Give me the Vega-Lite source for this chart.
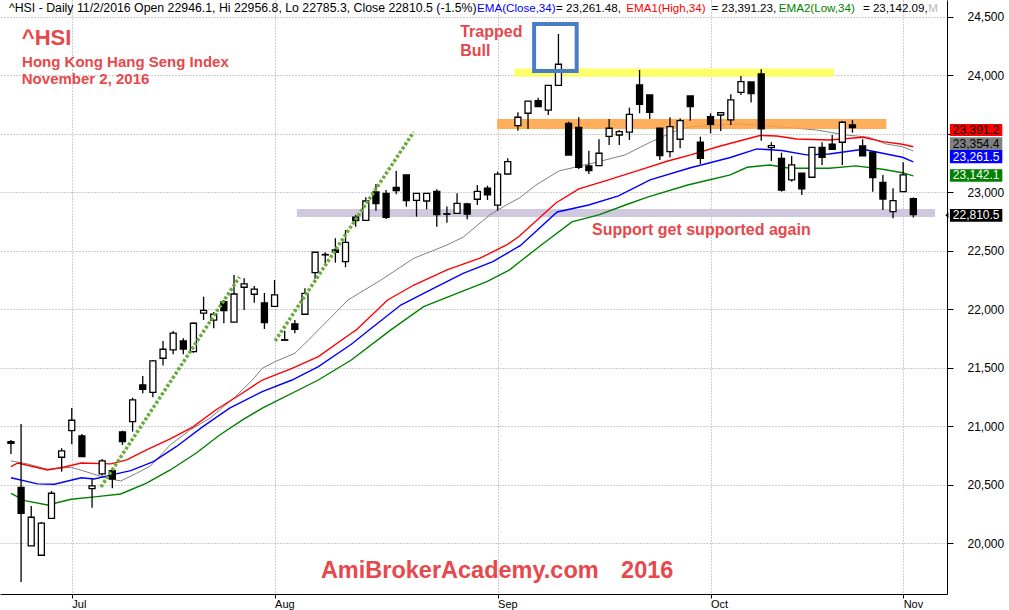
{
"$schema":"https://vega.github.io/schema/vega-lite/v6.json",
"width":947,"height":594,"autosize":{"type":"none"},"padding":{"left":0,"top":0,"right":62,"bottom":16},"background":"white",
"config":{"view":{"stroke":null},"font":"Liberation Sans"},
"datasets":{
"candles":[
{"i":0,"o":20870,"h":20885,"l":20765,"c":20856},{"i":1,"o":20480,"h":21021,"l":19671,"c":20258},{"i":2,"o":19979,"h":20321,"l":19979,"c":20224},{"i":3,"o":19899,"h":20184,"l":19899,"c":20173},{"i":4,"o":20215,"h":20449,"l":20215,"c":20429},{"i":5,"o":20737,"h":20814,"l":20614,"c":20791},{"i":6,"o":20964,"h":21158,"l":20848,"c":21053},{"i":7,"o":20919,"h":20936,"l":20742,"c":20742},{"i":8,"o":20468,"h":20557,"l":20306,"c":20492},{"i":9,"o":20594,"h":20722,"l":20580,"c":20705},
{"i":10,"o":20622,"h":20643,"l":20472,"c":20551},{"i":11,"o":20953,"h":20964,"l":20842,"c":20870},{"i":12,"o":21041,"h":21246,"l":20956,"c":21227},{"i":13,"o":21355,"h":21432,"l":21284,"c":21318},{"i":14,"o":21292,"h":21568,"l":21250,"c":21560},{"i":15,"o":21583,"h":21731,"l":21520,"c":21660},{"i":16,"o":21654,"h":21816,"l":21617,"c":21797},{"i":17,"o":21731,"h":21754,"l":21617,"c":21662},{"i":18,"o":21639,"h":21890,"l":21630,"c":21882},{"i":19,"o":21968,"h":22109,"l":21910,"c":21993},
{"i":20,"o":21908,"h":21979,"l":21839,"c":21959},{"i":21,"o":22067,"h":22081,"l":21882,"c":21990},{"i":22,"o":21891,"h":22295,"l":21891,"c":22132},{"i":23,"o":22190,"h":22267,"l":21996,"c":22218},{"i":24,"o":22130,"h":22201,"l":22058,"c":22173},{"i":25,"o":22056,"h":22141,"l":21833,"c":21887},{"i":26,"o":22027,"h":22252,"l":22027,"c":22124},{"i":27,"o":21741,"h":21819,"l":21735,"c":21737},{"i":28,"o":21876,"h":21910,"l":21796,"c":21831},{"i":29,"o":21959,"h":22181,"l":21959,"c":22138},
{"i":30,"o":22315,"h":22489,"l":22263,"c":22489},{"i":31,"o":22466,"h":22489,"l":22395,"c":22470},{"i":32,"o":22509,"h":22609,"l":22400,"c":22489},{"i":33,"o":22409,"h":22679,"l":22361,"c":22574},{"i":34,"o":22788,"h":22808,"l":22708,"c":22759},{"i":35,"o":22762,"h":22959,"l":22762,"c":22927},{"i":36,"o":23004,"h":23073,"l":22844,"c":22904},{"i":37,"o":22993,"h":23021,"l":22774,"c":22788},{"i":38,"o":23044,"h":23184,"l":22985,"c":23016},{"i":39,"o":23150,"h":23150,"l":22879,"c":22930},
{"i":40,"o":22933,"h":22995,"l":22793,"c":22993},{"i":41,"o":22927,"h":22995,"l":22856,"c":22993},{"i":42,"o":23010,"h":23027,"l":22708,"c":22810},{"i":43,"o":22818,"h":22879,"l":22742,"c":22814},{"i":44,"o":22822,"h":22993,"l":22822,"c":22907},{"i":45,"o":22902,"h":22913,"l":22771,"c":22814},{"i":46,"o":22942,"h":23064,"l":22893,"c":23010},{"i":47,"o":23036,"h":23058,"l":22936,"c":22979},{"i":48,"o":22891,"h":23178,"l":22844,"c":23156},{"i":49,"o":23158,"h":23292,"l":23158,"c":23263},
{"i":50,"o":23571,"h":23685,"l":23528,"c":23643},{"i":51,"o":23677,"h":23780,"l":23543,"c":23780},{"i":52,"o":23785,"h":23810,"l":23733,"c":23733},{"i":53,"o":23703,"h":23916,"l":23662,"c":23916},{"i":54,"o":23916,"h":24355,"l":23916,"c":24096},{"i":55,"o":23591,"h":23605,"l":23320,"c":23320},{"i":56,"o":23557,"h":23643,"l":23201,"c":23215},{"i":57,"o":23226,"h":23357,"l":23158,"c":23186},{"i":58,"o":23229,"h":23455,"l":23229,"c":23335},{"i":59,"o":23480,"h":23628,"l":23406,"c":23549},
{"i":60,"o":23491,"h":23534,"l":23406,"c":23520},{"i":61,"o":23515,"h":23725,"l":23449,"c":23668},{"i":62,"o":23919,"h":24047,"l":23677,"c":23754},{"i":63,"o":23833,"h":23833,"l":23628,"c":23685},{"i":64,"o":23549,"h":23549,"l":23278,"c":23315},{"i":65,"o":23349,"h":23643,"l":23301,"c":23562},{"i":66,"o":23455,"h":23634,"l":23378,"c":23614},{"i":67,"o":23825,"h":23825,"l":23614,"c":23733},{"i":68,"o":23429,"h":23477,"l":23244,"c":23292},{"i":69,"o":23648,"h":23677,"l":23506,"c":23583},
{"i":70,"o":23662,"h":23682,"l":23526,"c":23682},{"i":71,"o":23620,"h":23839,"l":23577,"c":23791},{"i":72,"o":23856,"h":23996,"l":23833,"c":23947},{"i":73,"o":23944,"h":23944,"l":23768,"c":23844},{"i":74,"o":24013,"h":24053,"l":23443,"c":23543},{"i":75,"o":23383,"h":23429,"l":23269,"c":23400},{"i":76,"o":23292,"h":23340,"l":23007,"c":23021},{"i":77,"o":23107,"h":23312,"l":23092,"c":23235},{"i":78,"o":23164,"h":23164,"l":22979,"c":23030},{"i":79,"o":23130,"h":23386,"l":23130,"c":23386},
{"i":80,"o":23386,"h":23429,"l":23235,"c":23301},{"i":81,"o":23412,"h":23491,"l":23363,"c":23369},{"i":82,"o":23429,"h":23611,"l":23235,"c":23600},{"i":83,"o":23577,"h":23620,"l":23511,"c":23554},{"i":84,"o":23397,"h":23455,"l":23312,"c":23312},{"i":85,"o":23344,"h":23344,"l":23007,"c":23127},{"i":86,"o":23087,"h":23150,"l":22850,"c":22944},{"i":87,"o":22836,"h":23036,"l":22780,"c":22930},{"i":88,"o":23007,"h":23258,"l":23007,"c":23150},{"i":89,"o":22946.1,"h":22956.8,"l":22785.3,"c":22810.5}
],
"ma":[
{"k":"gray","i":0,"p":20705},{"k":"gray","i":1.66,"p":20679},{"k":"gray","i":3.61,"p":20634},{"k":"gray","i":5.95,"p":20651},{"k":"gray","i":7.9,"p":20600},{"k":"gray","i":9.47,"p":20557},{"k":"gray","i":10.83,"p":20534},{"k":"gray","i":12.4,"p":20600},{"k":"gray","i":13.76,"p":20662},{"k":"gray","i":15.71,"p":20842},{"k":"gray","i":17.66,"p":20970},{"k":"gray","i":19.62,"p":21070},{"k":"gray","i":22.15,"p":21255},{"k":"gray","i":23.81,"p":21397},{"k":"gray","i":24.79,"p":21497},{"k":"gray","i":26.06,"p":21554},{"k":"gray","i":28.01,"p":21626},{"k":"gray","i":29.35,"p":21739},{"k":"gray","i":31.3,"p":21910},{"k":"gray","i":33.25,"p":22081},{"k":"gray","i":36.5,"p":22252},{"k":"gray","i":39.75,"p":22438},{"k":"gray","i":43.01,"p":22551},{"k":"gray","i":44.63,"p":22620},{"k":"gray","i":47.23,"p":22808},{"k":"gray","i":48.86,"p":22893},{"k":"gray","i":50.16,"p":22953},{"k":"gray","i":51.79,"p":23064},{"k":"gray","i":54.06,"p":23184},{"k":"gray","i":57.97,"p":23263},{"k":"gray","i":60.57,"p":23321},{"k":"gray","i":63.17,"p":23434},{"k":"gray","i":65.78,"p":23534},{"k":"gray","i":67.07,"p":23562},{"k":"gray","i":71.63,"p":23585},{"k":"gray","i":73.58,"p":23577},{"k":"gray","i":77.49,"p":23549},{"k":"gray","i":79.44,"p":23534},{"k":"gray","i":82.37,"p":23491},{"k":"gray","i":84.61,"p":23472},{"k":"gray","i":86.27,"p":23415},{"k":"gray","i":87.93,"p":23391},{"k":"gray","i":89,"p":23354.4},
{"k":"red","i":0,"p":20657},{"k":"red","i":0.68,"p":20688},{"k":"red","i":3.61,"p":20628},{"k":"red","i":5.27,"p":20654},{"k":"red","i":6.93,"p":20688},{"k":"red","i":9.86,"p":20680},{"k":"red","i":11.42,"p":20714},{"k":"red","i":13.37,"p":20799},{"k":"red","i":15.71,"p":20893},{"k":"red","i":17.96,"p":20996},{"k":"red","i":20.2,"p":21141},{"k":"red","i":22.54,"p":21269},{"k":"red","i":24.79,"p":21397},{"k":"red","i":27.72,"p":21497},{"k":"red","i":30.32,"p":21597},{"k":"red","i":33.57,"p":21797},{"k":"red","i":34.06,"p":21825},{"k":"red","i":37.15,"p":22081},{"k":"red","i":39.75,"p":22209},{"k":"red","i":43.01,"p":22338},{"k":"red","i":46.26,"p":22438},{"k":"red","i":48.89,"p":22551},{"k":"red","i":50.16,"p":22628},{"k":"red","i":53.74,"p":22910},{"k":"red","i":56.02,"p":23030},{"k":"red","i":58.94,"p":23107},{"k":"red","i":62.36,"p":23201},{"k":"red","i":64.8,"p":23269},{"k":"red","i":67.04,"p":23321},{"k":"red","i":69.97,"p":23397},{"k":"red","i":73.88,"p":23487},{"k":"red","i":75.53,"p":23483},{"k":"red","i":77.49,"p":23457},{"k":"red","i":80.71,"p":23449},{"k":"red","i":84.03,"p":23472},{"k":"red","i":85.97,"p":23434},{"k":"red","i":87.93,"p":23412},{"k":"red","i":89,"p":23391.2},
{"k":"blue","i":0,"p":20562},{"k":"blue","i":2.63,"p":20509},{"k":"blue","i":4.29,"p":20506},{"k":"blue","i":6.93,"p":20562},{"k":"blue","i":8.2,"p":20551},{"k":"blue","i":10.15,"p":20591},{"k":"blue","i":11.81,"p":20622},{"k":"blue","i":14.05,"p":20699},{"k":"blue","i":16.3,"p":20827},{"k":"blue","i":18.93,"p":20998},{"k":"blue","i":21.57,"p":21156},{"k":"blue","i":24.79,"p":21298},{"k":"blue","i":27.72,"p":21397},{"k":"blue","i":30.32,"p":21511},{"k":"blue","i":33.57,"p":21703},{"k":"blue","i":35.33,"p":21825},{"k":"blue","i":38.45,"p":22038},{"k":"blue","i":41.38,"p":22167},{"k":"blue","i":44.6,"p":22309},{"k":"blue","i":47.53,"p":22409},{"k":"blue","i":50.26,"p":22547},{"k":"blue","i":53.87,"p":22833},{"k":"blue","i":56.99,"p":22893},{"k":"blue","i":59.92,"p":22970},{"k":"blue","i":63.04,"p":23107},{"k":"blue","i":66.94,"p":23209},{"k":"blue","i":70.95,"p":23299},{"k":"blue","i":73.58,"p":23372},{"k":"blue","i":76.02,"p":23359},{"k":"blue","i":78.46,"p":23321},{"k":"blue","i":80.71,"p":23329},{"k":"blue","i":84.03,"p":23369},{"k":"blue","i":85.97,"p":23335},{"k":"blue","i":87.93,"p":23301},{"k":"blue","i":89,"p":23261.5},
{"k":"green","i":0,"p":20429},{"k":"green","i":1.37,"p":20366},{"k":"green","i":3.61,"p":20329},{"k":"green","i":5.95,"p":20378},{"k":"green","i":8.49,"p":20400},{"k":"green","i":10.83,"p":20423},{"k":"green","i":13.37,"p":20515},{"k":"green","i":15.71,"p":20628},{"k":"green","i":18.25,"p":20771},{"k":"green","i":20.59,"p":20927},{"k":"green","i":22.84,"p":21056},{"k":"green","i":24.79,"p":21156},{"k":"green","i":30.32,"p":21397},{"k":"green","i":33.57,"p":21568},{"k":"green","i":37.47,"p":21825},{"k":"green","i":40.7,"p":22024},{"k":"green","i":43.62,"p":22124},{"k":"green","i":46.94,"p":22238},{"k":"green","i":49.19,"p":22338},{"k":"green","i":50.16,"p":22406},{"k":"green","i":52.31,"p":22551},{"k":"green","i":55.33,"p":22748},{"k":"green","i":57.97,"p":22808},{"k":"green","i":60.6,"p":22893},{"k":"green","i":62.85,"p":22962},{"k":"green","i":66.75,"p":23064},{"k":"green","i":68.41,"p":23098},{"k":"green","i":70.95,"p":23150},{"k":"green","i":72.61,"p":23215},{"k":"green","i":74.85,"p":23235},{"k":"green","i":76.81,"p":23207},{"k":"green","i":80.71,"p":23207},{"k":"green","i":83.34,"p":23227},{"k":"green","i":85.97,"p":23198},{"k":"green","i":87.93,"p":23169},{"k":"green","i":89,"p":23142.1}
],
"bands":[
{"k":"lav","i":28.2,"i2":91.15,"p":22859,"p2":22790},
{"k":"orange","i":47.95,"i2":86.34,"p":23628,"p2":23543},
{"k":"yellow","i":49.67,"i2":81.17,"p":24060,"p2":23990}
],
"trend":[
{"g":1,"i":8.88,"p":20483},{"g":1,"i":22.54,"p":22278},
{"g":2,"i":26.06,"p":21731},{"g":2,"i":39.72,"p":23517}
],
"header":[
{"g":"h1","k":"black","t":"^HSI - Daily 11/2/2016 Open 22946.1, Hi 22956.8, Lo 22785.3, Close 22810.5 (-1.5%)","i":-0.195,"p":24545},
{"g":"h2","k":"blue","t":"EMA(Close,34)","i":45.97,"p":24545},
{"g":"h2","k":"black","t":"= 23,261.48,","i":53.77,"p":24545},
{"g":"h2","k":"red","t":"EMA1(High,34)","i":60.7,"p":24545},
{"g":"h2","k":"black","t":"= 23,391.23,","i":69.09,"p":24545},
{"g":"h2","k":"green","t":"EMA2(Low,34)","i":75.73,"p":24545},
{"g":"h2","k":"black","t":"= 23,142.09,","i":84.03,"p":24545},
{"g":"h2","k":"lgray","t":"M","i":90.47,"p":24545}
],
"notes":[
{"g":"big","t":"^HSI","i":1.07,"p":24261},
{"g":"sub","t":"Hong Kong Hang Seng Index","i":1.1,"p":24075},
{"g":"sub","t":"November 2, 2016","i":1.07,"p":23927},
{"g":"mid","t":"Trapped","i":44.31,"p":24332},
{"g":"mid","t":"Bull","i":44.31,"p":24169},
{"g":"mid","t":"Support get supported again","i":57.31,"p":22637},
{"g":"wm","t":"AmiBrokerAcademy.com","i":30.57,"p":19703},
{"g":"wm","t":"2016","i":60.18,"p":19703}
],
"last":[
{"k":"red","t":"23,391.2","i":95.2,"a":92.61,"b":97.78,"p":23534,"p1":23585,"p2":23483},
{"k":"gray","t":"23,354.4","i":95.2,"a":92.61,"b":97.78,"p":23417,"p1":23472,"p2":23363},
{"k":"blue","t":"23,261.5","i":95.2,"a":92.61,"b":97.78,"p":23306,"p1":23363,"p2":23250},
{"k":"green","t":"23,142.1","i":95.2,"a":92.61,"b":97.78,"p":23145,"p1":23198,"p2":23092},
{"k":"black","t":"22,810.5","i":95.2,"a":92.61,"b":97.78,"p":22805,"p1":22859,"p2":22750}
]
},
"encoding":{
"x":{"field":"i","type":"quantitative","scale":{"domain":[-0.586,91.83],"nice":false,"zero":false},
 "axis":{"orient":"bottom","title":null,"values":[6,26,48,69,88],"labelExpr":"datum.value < 16 ? 'Jul' : datum.value < 37 ? 'Aug' : datum.value < 58 ? 'Sep' : datum.value < 78 ? 'Oct' : 'Nov'",
 "grid":true,"gridDash":[1,2],"gridColor":"#9a9a9a","tickSize":4,"tickColor":"black","domainColor":"black","labelAlign":"left","labelBaseline":"top","labelPadding":0,"labelDx":1,"labelFontSize":11,"labelColor":"black","labelFlush":false,"labelOverlap":false}},
"y":{"field":"p","type":"quantitative","scale":{"domain":[19568,24645],"nice":false,"zero":false},
 "axis":{"orient":"right","title":null,"values":[20000,20500,21000,21500,22000,22500,23000,23500,24000,24500],"labelExpr":"datum.value == 23500 ? '' : format(datum.value, ',')",
 "grid":true,"gridDash":[1,2],"gridColor":"#9a9a9a","tickSize":6,"tickColor":"black","domainColor":"black","labelAlign":"left","labelBaseline":"middle","labelPadding":14,"labelFontSize":12,"labelColor":"black","labelOverlap":false,"zindex":0}}
},
"layer":[
{"data":{"name":"bands"},"transform":[{"filter":"datum.k=='lav'"}],"mark":{"type":"rect"},
 "encoding":{"x2":{"field":"i2"},"y2":{"field":"p2"},
 "color":{"field":"k","type":"nominal","legend":null,"scale":{"domain":["black","blue","red","green","gray","lgray","lav","orange","yellow"],"range":["#000000","#0000ff","#ff0000","#008000","#808080","#b8b8b8","#d0c8df","#ffa040","#ffff50"]}}}},
{"data":{"name":"ma"},"mark":{"type":"line"},
 "encoding":{"color":{"field":"k","type":"nominal","legend":null,"scale":{"domain":["black","blue","red","green","gray","lgray","lav","orange","yellow"],"range":["#000000","#0000ff","#ff0000","#008000","#808080","#b8b8b8","#d0c8df","#ffa040","#ffff50"]}},
 "strokeWidth":{"condition":{"test":"datum.k=='gray'","value":1},"value":1.4}}},
{"data":{"name":"bands"},"transform":[{"filter":"datum.k!='lav'"}],"mark":{"type":"rect","opacity":0.85},
 "encoding":{"x2":{"field":"i2"},"y2":{"field":"p2"},
 "color":{"field":"k","type":"nominal","legend":null,"scale":{"domain":["black","blue","red","green","gray","lgray","lav","orange","yellow"],"range":["#000000","#0000ff","#ff0000","#008000","#808080","#b8b8b8","#d0c8df","#ffa040","#ffff50"]}}}},
{"data":{"name":"candles"},"mark":{"type":"rule","color":"black","strokeWidth":1.3},
 "encoding":{"y":{"field":"l","type":"quantitative","scale":{"domain":[19568,24645],"nice":false,"zero":false}},"y2":{"field":"h"}}},
{"data":{"name":"candles"},"mark":{"type":"bar","size":6,"stroke":"black","strokeWidth":1.3},
 "encoding":{"y":{"field":"o","type":"quantitative","scale":{"domain":[19568,24645],"nice":false,"zero":false}},"y2":{"field":"c"},
 "fill":{"condition":{"test":"datum.o > datum.c","value":"black"},"value":"white"}}},
{"data":{"name":"trend"},"mark":{"type":"line","color":"#6aaa3c","strokeWidth":3.5,"strokeDash":[3,2]},
 "encoding":{"detail":{"field":"g","type":"nominal"}}},
{"data":{"values":[{"i":51.6,"i2":55.8,"p":24440,"p2":24038}]},"mark":{"type":"rect","fillOpacity":0,"stroke":"#4a7cc8","strokeWidth":4},
 "encoding":{"x2":{"field":"i2"},"y2":{"field":"p2"}}},
{"data":{"name":"header"},"transform":[{"filter":"datum.g=='h1'"}],"mark":{"type":"text","align":"left","baseline":"alphabetic","fontSize":12.3},
 "encoding":{"text":{"field":"t"},"color":{"field":"k","type":"nominal","legend":null,"scale":{"domain":["black","blue","red","green","gray","lgray","lav","orange","yellow"],"range":["#000000","#0000ff","#ff0000","#008000","#808080","#b8b8b8","#d0c8df","#ffa040","#ffff50"]}}}},
{"data":{"name":"header"},"transform":[{"filter":"datum.g=='h2'"}],"mark":{"type":"text","align":"left","baseline":"alphabetic","fontSize":11.6},
 "encoding":{"text":{"field":"t"},"color":{"field":"k","type":"nominal","legend":null,"scale":{"domain":["black","blue","red","green","gray","lgray","lav","orange","yellow"],"range":["#000000","#0000ff","#ff0000","#008000","#808080","#b8b8b8","#d0c8df","#ffa040","#ffff50"]}}}},
{"data":{"name":"notes"},"transform":[{"filter":"datum.g=='big'"}],"mark":{"type":"text","align":"left","baseline":"alphabetic","fontSize":22,"fontWeight":"bold","color":"#e8474b"},
 "encoding":{"text":{"field":"t"}}},
{"data":{"name":"notes"},"transform":[{"filter":"datum.g=='sub'"}],"mark":{"type":"text","align":"left","baseline":"alphabetic","fontSize":15,"fontWeight":"bold","color":"#e8474b"},
 "encoding":{"text":{"field":"t"}}},
{"data":{"name":"notes"},"transform":[{"filter":"datum.g=='mid'"}],"mark":{"type":"text","align":"left","baseline":"alphabetic","fontSize":16,"fontWeight":"bold","color":"#e8474b"},
 "encoding":{"text":{"field":"t"}}},
{"data":{"name":"notes"},"transform":[{"filter":"datum.g=='wm'"}],"mark":{"type":"text","align":"left","baseline":"alphabetic","fontSize":23.5,"fontWeight":"bold","color":"#e8474b"},
 "encoding":{"text":{"field":"t"}}},
{"data":{"name":"last"},"mark":{"type":"rect"},
 "encoding":{"x":{"field":"a","type":"quantitative","scale":{"domain":[-0.586,91.83],"nice":false,"zero":false}},"x2":{"field":"b"},
 "y":{"field":"p1","type":"quantitative","scale":{"domain":[19568,24645],"nice":false,"zero":false}},"y2":{"field":"p2"},
 "color":{"field":"k","type":"nominal","legend":null,"scale":{"domain":["black","blue","red","green","gray","lgray","lav","orange","yellow"],"range":["#000000","#0000ff","#ff0000","#008000","#808080","#b8b8b8","#d0c8df","#ffa040","#ffff50"]}}}},
{"data":{"values":[{"i":92.32,"p":22805}]},"mark":{"type":"point","filled":true,"color":"black","opacity":1,"size":36,"shape":"M-0.5,0L0.5,-1L0.5,1Z"},"encoding":{}},
{"data":{"name":"last"},"mark":{"type":"text","align":"center","baseline":"middle","fontSize":12},
 "encoding":{"text":{"field":"t"},"fill":{"condition":{"test":"datum.k=='red' || datum.k=='gray'","value":"black"},"value":"white"}}}
]
}
